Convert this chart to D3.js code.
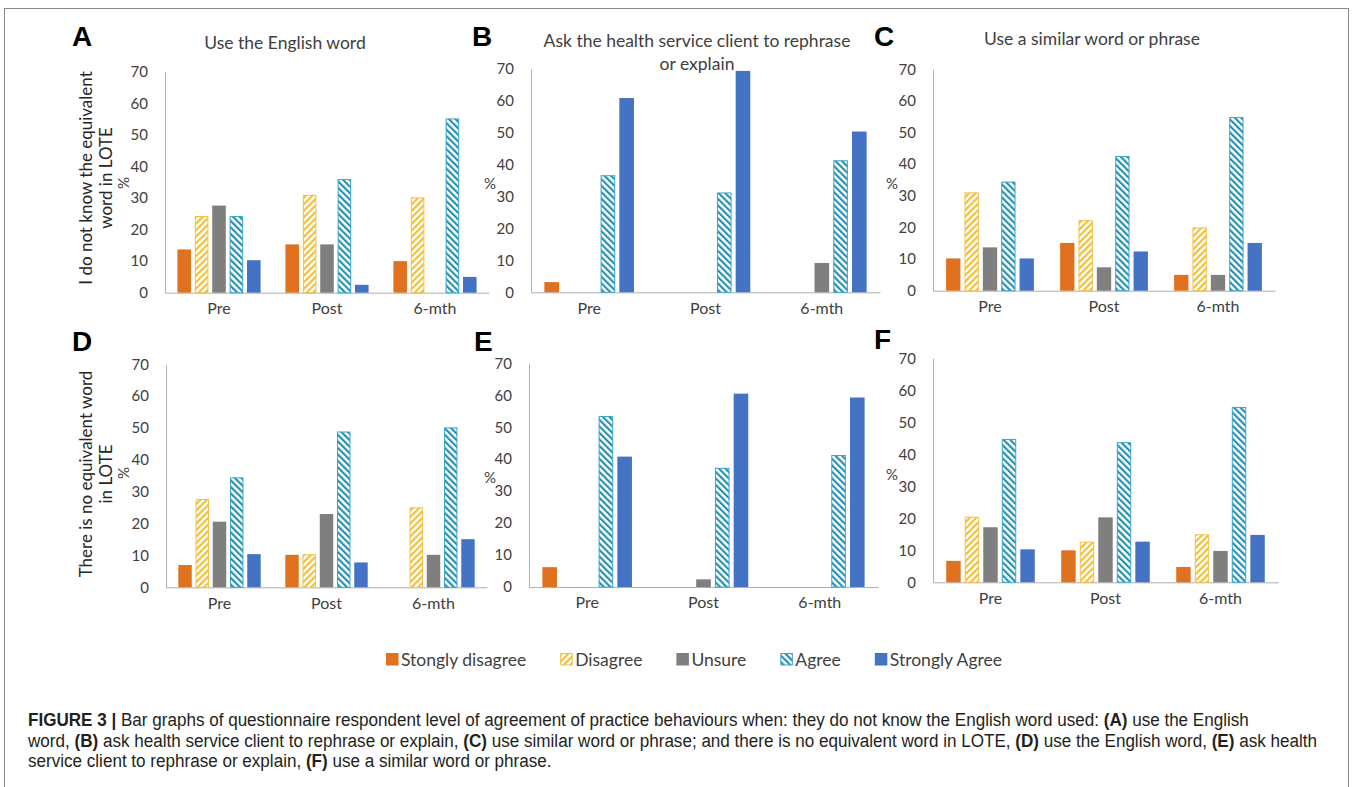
<!DOCTYPE html>
<html lang="en">
<head>
<meta charset="UTF-8" />
<title>Figure 3 - bar graphs</title>
<script src="https://cdn.jsdelivr.net/npm/d3@7"></script>
<style>
  body { margin: 0; background: #fff; }
  svg { display: block; }
  .tick-lbl { font-family: Lato, "Open Sans", sans-serif; font-size: 15px; fill: #404040; }
  .cat-lbl { font-family: Lato, "Open Sans", sans-serif; font-size: 16px; fill: #404040; }
  .title { font-family: Lato, "Open Sans", sans-serif; font-size: 17.5px; fill: #404040; }
  .row-lbl { font-family: Lato, "Open Sans", sans-serif; font-size: 17px; fill: #262626; }
  .letter { font-family: "Liberation Sans", Arial, sans-serif; font-size: 28px; font-weight: bold; fill: #000; }
  .legend { font-family: Lato, "Open Sans", sans-serif; font-size: 17.5px; fill: #404040; }
  .caption { font-family: "Liberation Sans", Arial, sans-serif; font-size: 18px; fill: #231f20; }
</style>
</head>
<body>
<div id="app"></div>
<script>
// data
const categories = ["Pre", "Post", "6-mth"];
const responses = ["Stongly disagree", "Disagree", "Unsure", "Agree", "Strongly Agree"];
const yTicks = [0, 10, 20, 30, 40, 50, 60, 70];

// values per category: [Stongly disagree, Disagree, Unsure, Agree, Strongly Agree]
const valuesA = [[13.7, 24.3, 27.6, 24.3, 10.3], [15.3, 31.0, 15.3, 36.0, 2.5], [10.0, 30.2, 0, 55.2, 5.0]];
const valuesB = [[3.2, 0, 0, 36.7, 60.9], [0, 0, 0, 31.3, 69.4], [0, 0, 9.2, 41.4, 50.4]];
const valuesC = [[10.2, 31.1, 13.7, 34.5, 10.2], [15.1, 22.3, 7.4, 42.6, 12.4], [5.0, 20.0, 5.0, 54.9, 15.1]];
const valuesD = [[7.0, 27.7, 20.6, 34.5, 10.4], [10.2, 10.4, 23.0, 48.9, 7.8], [0, 25.1, 10.2, 50.2, 15.1]];
const valuesE = [[6.2, 0, 0, 53.5, 40.8], [0, 0, 2.4, 37.3, 60.5], [0, 0, 0, 41.3, 59.3]];
const valuesF = [[6.7, 20.5, 17.2, 44.8, 10.3], [10.0, 12.7, 20.3, 43.8, 12.7], [4.8, 15.0, 9.8, 54.8, 14.8]];

const titles = {
  A: ["Use the English word"],
  B: ["Ask the health service client to rephrase", "or explain"],
  C: ["Use a similar word or phrase"]
};
const rowLabels = [
  ["I do not know the equivalent", "word in LOTE"],
  ["There is no equivalent word", "in LOTE"]
];

const W = 1352, H = 787;
const svg = d3.select("#app").append("svg")
  .attr("width", W)
  .attr("height", H);

// frame
svg.append("rect")
  .attr("x", 4.5).attr("y", 8.5)
  .attr("width", 1344).attr("height", 820)
  .attr("fill", "#fff")
  .attr("stroke", "#8a8a8a");

// hatch patterns
const defs = svg.append("defs");
function hatch(id, color, angle) {
  const p = defs.append("pattern")
    .attr("id", id)
    .attr("patternUnits", "userSpaceOnUse")
    .attr("width", 4.6).attr("height", 4.6)
    .attr("patternTransform", "rotate(" + angle + ")");
  p.append("rect").attr("width", 4.6).attr("height", 4.6).attr("fill", "#fff");
  p.append("rect").attr("x", 0).attr("width", 2.1).attr("height", 4.6).attr("fill", color);
}
hatch("hatchYellow", "#F5BE2E", 45);
hatch("hatchTeal", "#1F8FB3", -45);

const fills = ["#E0721F", "url(#hatchYellow)", "#7F7F7F", "url(#hatchTeal)", "#4472C4"];
const strokes = [null, "#F2C04A", null, "#3AA6C6", null];

// panel layout
const panels = [
  { key: "A", values: valuesA, x0: 165, x1: 489, yTop: 71.7, yBot: 292.7, lx: 72, ly: 46, pct: [123, 183, true], row: 0, rowY: 178 },
  { key: "B", values: valuesB, x0: 531, x1: 880, yTop: 69, yBot: 292.3, lx: 472, ly: 46, pct: [490, 183, false] },
  { key: "C", values: valuesC, x0: 933, x1: 1275, yTop: 69.3, yBot: 290.7, lx: 874, ly: 46, pct: [892, 183, false] },
  { key: "D", values: valuesD, x0: 166, x1: 487, yTop: 364.3, yBot: 587.3, lx: 72, ly: 351, pct: [123, 473, true], row: 1, rowY: 474 },
  { key: "E", values: valuesE, x0: 529, x1: 878, yTop: 363.3, yBot: 587, lx: 474, ly: 351, pct: [490, 477, false] },
  { key: "F", values: valuesF, x0: 933, x1: 1278, yTop: 358.3, yBot: 582.3, lx: 874, ly: 349, pct: [892, 474, false] }
];

panels.forEach(p => {
  const g = svg.append("g");
  const x = d3.scaleBand().domain(categories).range([p.x0, p.x1]).paddingInner(0.23).paddingOuter(0.115);
  const xs = d3.scaleBand().domain(responses).range([0, x.bandwidth()]).paddingInner(0.22);
  const y = d3.scaleLinear().domain([0, 70]).range([p.yBot, p.yTop]);

  // y axis
  const yAxis = d3.axisLeft(y).tickValues(yTicks).tickSize(0).tickPadding(17);
  const ya = g.append("g").attr("transform", "translate(" + p.x0 + ",0)").call(yAxis);
  ya.select(".domain").attr("stroke", "#b0b0b0");
  ya.selectAll("text").attr("class", "tick-lbl").attr("font-family", null).attr("font-size", null).attr("fill", null);

  // x axis
  const xAxis = d3.axisBottom(x).tickSize(0).tickPadding(10);
  const xa = g.append("g").attr("transform", "translate(0," + p.yBot + ")").call(xAxis);
  xa.select(".domain").attr("stroke", "#b0b0b0");
  xa.selectAll("text").attr("class", "cat-lbl").attr("font-family", null).attr("font-size", null).attr("fill", null);

  // bars
  const groups = g.selectAll(".grp")
    .data(p.values)
    .enter().append("g")
    .attr("transform", (d, i) => "translate(" + x(categories[i]) + ",0)");
  groups.selectAll("rect")
    .data(d => d.map((v, j) => ({ v: v, j: j })).filter(e => e.v > 0))
    .enter().append("rect")
    .attr("x", e => xs(responses[e.j]) + (strokes[e.j] ? 0.5 : 0))
    .attr("width", e => xs.bandwidth() - (strokes[e.j] ? 1 : 0))
    .attr("y", e => y(e.v) + (strokes[e.j] ? 0.5 : 0))
    .attr("height", e => y(0) - y(e.v) - (strokes[e.j] ? 0.5 : 0))
    .attr("fill", e => fills[e.j])
    .attr("stroke", e => strokes[e.j] || "none")
    .attr("stroke-width", 1);

  // panel letter
  svg.append("text").attr("class", "letter").attr("x", p.lx).attr("y", p.ly).text(p.key);

  // percent label
  svg.append("text").attr("class", "tick-lbl")
    .attr("text-anchor", "middle").attr("dominant-baseline", "central")
    .attr("transform", "translate(" + p.pct[0] + "," + p.pct[1] + ")" + (p.pct[2] ? " rotate(-90)" : ""))
    .text("%");

  // row label
  if (p.row !== undefined) {
    rowLabels[p.row].forEach((line, i) => {
      svg.append("text").attr("class", "row-lbl")
        .attr("text-anchor", "middle").attr("dominant-baseline", "central")
        .attr("transform", "translate(" + (85 + i * 20) + "," + p.rowY + ") rotate(-90)")
        .text(line);
    });
  }
});

// top titles
const titlePos = { A: [285, 42], B: [697, 40], C: [1092, 38] };
Object.keys(titles).forEach(k => {
  titles[k].forEach((line, i) => {
    svg.append("text").attr("class", "title")
      .attr("x", titlePos[k][0]).attr("y", titlePos[k][1] + i * 23)
      .attr("text-anchor", "middle").attr("dominant-baseline", "central")
      .text(line);
  });
});

// legend
const leg = svg.append("g").attr("transform", "translate(386,659)");
let lx = 0;
responses.forEach((r, j) => {
  leg.append("rect")
    .attr("x", lx + (strokes[j] ? 0.5 : 0)).attr("y", -6 + (strokes[j] ? 0.5 : 0))
    .attr("width", strokes[j] ? 11.5 : 12.5).attr("height", strokes[j] ? 11.5 : 12.5)
    .attr("fill", fills[j])
    .attr("stroke", strokes[j] || "none");
  const t = leg.append("text").attr("class", "legend")
    .attr("x", lx + 15).attr("y", 0)
    .attr("dominant-baseline", "central")
    .text(r);
  lx += 15 + t.node().getComputedTextLength() + 34;
});

// caption (one condensing factor for all lines, set from line two)
const capLines = [
  [["FIGURE 3 | ", true], ["Bar graphs of questionnaire respondent level of agreement of practice behaviours when: they do not know the English word used: ", false], ["(A)", true], [" use the English", false]],
  [["word, ", false], ["(B)", true], [" ask health service client to rephrase or explain, ", false], ["(C)", true], [" use similar word or phrase; and there is no equivalent word in LOTE, ", false], ["(D)", true], [" use the English word, ", false], ["(E)", true], [" ask health", false]],
  [["service client to rephrase or explain, ", false], ["(F)", true], [" use a similar word or phrase.", false]]
];
const capNodes = capLines.map(parts => {
  const t = svg.append("text").attr("class", "caption").attr("x", 0).attr("y", 0);
  parts.forEach(pt => {
    t.append("tspan").attr("font-weight", pt[1] ? "bold" : null).text(pt[0]);
  });
  return t;
});
const capScale = 1290 / capNodes[1].node().getComputedTextLength();
capNodes.forEach((t, i) => {
  t.attr("transform", "translate(28," + (726 + i * 20.5) + ") scale(" + capScale + ",1)");
});
</script>
</body>
</html>
